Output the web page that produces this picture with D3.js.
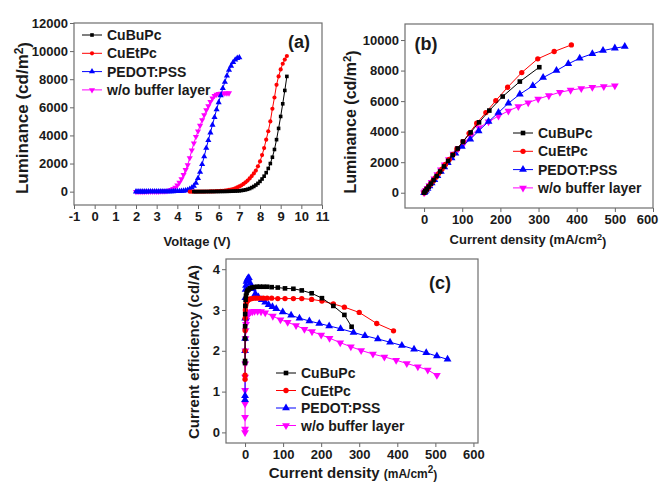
<!DOCTYPE html>
<html>
<head>
<meta charset="utf-8">
<script src="https://cdn.jsdelivr.net/npm/d3@7"></script>
<style>
  body { margin: 0; background: #fff; }
  text { font-family: "Liberation Sans", Arial, sans-serif; fill: #1a1a1a; }
</style>
</head>
<body>
<div id="chart"></div>
<script>
// ---- data ----
var seriesNames = ["CuBuPc", "CuEtPc", "PEDOT:PSS", "w/o buffer layer"];

// (a) luminance vs voltage
var aVoltBu = [4.8,4.9,5.0,5.1,5.2,5.3,5.4,5.5,5.6,5.7,5.8,5.9,6.0,6.1,6.2,6.3,6.4,6.5,6.6,6.7,6.8,6.9,7.0,7.1,7.2,7.3,7.4,7.5,7.6,7.7,7.8,7.9,8.0,8.1,8.2,8.3,8.4,8.5,8.6,8.7,8.8,8.9,9.0,9.1,9.2,9.3];
var aLumBu = [0,0,2,3,4,5,6,7,8,9,10,11,12,14,16,18,21,25,30,36,43,51,60,80,100,130,170,220,290,370,470,590,730,900,1100,1350,1650,2000,2450,3000,3700,4500,5350,6250,7200,8200];
var aVoltEt = [4.6,4.7,4.8,4.9,5.0,5.1,5.2,5.3,5.4,5.5,5.6,5.7,5.8,5.9,6.0,6.1,6.2,6.3,6.4,6.5,6.6,6.7,6.8,6.9,7.0,7.1,7.2,7.3,7.4,7.5,7.6,7.7,7.8,7.9,8.0,8.1,8.2,8.3,8.4,8.5,8.6,8.7,8.8,8.9,9.0,9.1,9.2,9.3];
var aLumEt = [0,1,2,3,4,5,6,7,9,11,14,18,24,31,40,50,60,75,95,120,150,190,240,300,370,450,550,660,790,940,1110,1300,1500,1800,2150,2600,3100,3700,4300,5000,5900,6700,7600,8200,8700,9100,9400,9650];
var aVoltPe = [2.0,2.1,2.2,2.3,2.4,2.5,2.6,2.7,2.8,2.9,3.0,3.1,3.2,3.3,3.4,3.5,3.6,3.7,3.8,3.9,4.0,4.1,4.2,4.3,4.4,4.5,4.6,4.7,4.8,4.9,5.0,5.1,5.2,5.3,5.4,5.5,5.6,5.7,5.8,5.9,6.0,6.1,6.2,6.3,6.4,6.5,6.6,6.7,6.8,6.9,7.0];
var aLumPe = [0,0,1,1,2,2,3,3,4,5,6,7,8,9,10,12,14,16,19,22,26,32,40,55,80,120,180,270,400,620,950,1400,1950,2500,3100,3650,4200,4750,5300,5850,6350,6850,7350,7800,8250,8650,8950,9200,9380,9500,9550];
var aVoltWo = [2.0,2.1,2.2,2.3,2.4,2.5,2.6,2.7,2.8,2.9,3.0,3.1,3.2,3.3,3.4,3.5,3.6,3.7,3.8,3.9,4.0,4.1,4.2,4.3,4.4,4.5,4.6,4.7,4.8,4.9,5.0,5.1,5.2,5.3,5.4,5.5,5.6,5.7,5.8,5.9,6.0,6.1,6.2,6.3,6.4,6.5];
var aLumWo = [0,1,1,2,3,4,5,6,8,10,13,17,22,29,38,55,85,130,200,300,450,650,900,1200,1550,1900,2400,2950,3450,3900,4300,4700,5100,5450,5800,6100,6400,6650,6830,6920,6960,6980,6990,7000,7000,7010];

// (b) luminance vs current density
var bJBu = [0,3,7,12,18,25,33,42,52,63,75,88,102,122,144,171,206,251,302];
var bLBu = [0,100,230,400,600,830,1090,1390,1720,2080,2470,2900,3350,3950,4610,5380,6300,7280,8220];
var bJEt = [0,2,5,8,12,17,23,30,38,47,56,66,76,86,102,118,138,162,188,219,256,298,341,386];
var bLEt = [0,65,165,265,395,560,760,990,1255,1550,1850,2180,2510,2870,3340,3890,4550,5250,6030,6910,7870,8770,9250,9680];
var bJPe = [0,2,5,9,14,20,27,35,44,53,62,72,82,99,121,143,169,195,221,251,285,312,347,378,408,441,469,500,526];
var bLPe = [0,65,160,285,445,635,855,1110,1395,1680,1960,2270,2580,3020,3500,4050,4660,5250,5860,6450,7000,7540,8000,8440,8810,9100,9310,9470,9570];
var bJWo = [0,2,5,9,14,20,27,35,44,54,65,77,90,105,122,144,169,195,221,247,273,299,327,356,384,412,441,471,500];
var bLWo = [0,60,170,300,470,680,920,1200,1500,1840,2180,2540,2900,3280,3720,4250,4650,5030,5360,5640,5900,6140,6360,6580,6720,6830,6910,6960,7000];

// (c) current efficiency vs current density
var cJBu = [0.02,0.05,0.1,0.2,0.4,0.8,1.5,2.5,4,6,9,13,18,24,31,39,48,58,70,86,105,127,149,175,202,232,261,280];
var cEBu = [1.7,1.75,2.3,2.6,2.9,3.1,3.25,3.35,3.42,3.47,3.5,3.53,3.55,3.56,3.57,3.57,3.57,3.57,3.56,3.55,3.53,3.52,3.48,3.41,3.29,3.10,2.88,2.59];
var cJEt = [0.02,0.05,0.1,0.2,0.4,0.8,1.5,2.5,4,6,9,13,18,24,31,39,48,58,70,86,105,127,149,175,202,232,261,300,346,390];
var cEEt = [1.3,1.4,2.0,2.5,2.8,3.0,3.1,3.15,3.2,3.22,3.25,3.27,3.28,3.29,3.29,3.29,3.29,3.29,3.29,3.28,3.28,3.28,3.28,3.26,3.22,3.15,3.07,2.94,2.67,2.49];
var cJPe = [0.02,0.05,0.1,0.2,0.4,0.8,1.5,2.5,4,6,8,10,14,20,27,35,44,53,62,72,82,99,121,143,169,195,221,251,285,315,349,381,412,444,476,504,532];
var cEPe = [0.8,0.9,2.0,2.3,2.8,3.3,3.5,3.6,3.7,3.75,3.78,3.79,3.65,3.52,3.40,3.32,3.25,3.19,3.13,3.08,3.03,2.95,2.87,2.80,2.73,2.67,2.61,2.54,2.45,2.37,2.29,2.21,2.13,2.04,1.95,1.87,1.79];
var cJWo = [0.01,0.02,0.04,0.08,0.15,0.3,0.5,0.8,1.2,1.8,2.6,3.6,5,7,10,14,19,25,33,42,53,73,93,112,134,156,176,200,222,250,278,305,336,366,397,425,454,480,504];
var cEWo = [0.0,0.08,0.37,0.7,1.03,1.36,1.68,2.0,2.3,2.5,2.65,2.75,2.83,2.88,2.92,2.95,2.96,2.97,2.97,2.96,2.93,2.85,2.76,2.70,2.62,2.53,2.47,2.39,2.31,2.20,2.10,2.01,1.92,1.85,1.77,1.69,1.61,1.53,1.40];

var aTicksX = [-1,0,1,2,3,4,5,6,7,8,9,10,11];
var aTicksY = [0,2000,4000,6000,8000,10000,12000];
var bTicksX = [0,100,200,300,400,500,600];
var bTicksY = [0,2000,4000,6000,8000,10000];
var cTicksX = [0,100,200,300,400,500,600];
var cTicksY = [0,1,2,3,4];

// ---- styles ----
var colors = ["#000000", "#ff0000", "#0000ff", "#ff00ff"];
var shapes = ["square", "circle", "up", "down"];

var svg = d3.select("#chart").append("svg")
    .attr("width", 659).attr("height", 484);
svg.append("rect").attr("width", 659).attr("height", 484).attr("fill", "#fff");

function zip(xs, ys) {
    return xs.map(function(x, i) { return [x, ys[i]]; });
}

// plain numbers, ascii hyphen for negatives
function plain(d) { return String(d); }

function marker(g, shape, color, s) {
    if (shape == "square") {
        g.append("rect").attr("x", -s/2).attr("y", -s/2).attr("width", s).attr("height", s).attr("fill", color);
    } else if (shape == "circle") {
        g.append("circle").attr("r", s*0.58).attr("fill", color);
    } else {
        var sym = d3.symbol().type(d3.symbolTriangle).size(s*s*1.25);
        g.append("path").attr("d", sym).attr("fill", color)
            .attr("transform", shape == "down" ? "rotate(180)" : null);
    }
}

function panel(cfg) {
    var x = d3.scaleLinear().domain(cfg.xd).range([cfg.left, cfg.right]);
    var y = d3.scaleLinear().domain(cfg.yd).range([cfg.bottom, cfg.top]);
    var g = svg.append("g");

    // axes
    var xa = g.append("g")
        .attr("transform", "translate(0," + cfg.bottom + ")")
        .call(d3.axisBottom(x).tickValues(cfg.tx).tickFormat(plain).tickSize(4).tickSizeOuter(0).tickPadding(3))
        .call(function(a){ a.select(".domain").remove(); });
    xa.selectAll("text").style("font-size", cfg.tickFont + "px").style("font-weight", "bold").attr("fill", "#1a1a1a");
    if (cfg.lastDx) {
        // keep the last label inside the page
        xa.selectAll(".tick").filter(function(d){ return d == cfg.tx[cfg.tx.length - 1]; })
            .select("text").attr("x", cfg.lastDx);
    }

    g.append("g")
        .attr("transform", "translate(" + cfg.left + ",0)")
        .call(d3.axisLeft(y).tickValues(cfg.ty).tickFormat(plain).tickSize(4).tickSizeOuter(0).tickPadding(2))
        .call(function(a){ a.select(".domain").remove(); })
        .selectAll("text").style("font-size", cfg.tickFont + "px").style("font-weight", "bold").attr("fill", "#1a1a1a");
    g.selectAll(".tick line").attr("stroke", "#666");

    // frame
    g.append("rect")
        .attr("x", cfg.left).attr("y", cfg.top)
        .attr("width", cfg.right - cfg.left).attr("height", cfg.bottom - cfg.top)
        .attr("fill", "none").attr("stroke", "#6e6e6e").attr("stroke-width", 1.2);

    var line = d3.line().x(function(d){ return x(d[0]); }).y(function(d){ return y(d[1]); });

    // draw last series first so black is on top
    for (var i = cfg.data.length - 1; i >= 0; i--) {
        var pts = cfg.data[i];
        g.append("path").datum(pts).attr("d", line)
            .attr("fill", "none").attr("stroke", colors[i]).attr("stroke-width", 1);
        g.selectAll(null).data(pts).enter().append("g")
            .attr("transform", function(d){ return "translate(" + x(d[0]) + "," + y(d[1]) + ")"; })
            .each(function(){ marker(d3.select(this), shapes[i], colors[i], cfg.ms); });
    }

    // legend
    seriesNames.forEach(function(name, i) {
        var ly = cfg.leg[1] + i * cfg.leg[2];
        var lg = g.append("g");
        lg.append("line").attr("x1", cfg.leg[0]).attr("x2", cfg.leg[0] + 20)
            .attr("y1", ly).attr("y2", ly).attr("stroke", colors[i]).attr("stroke-width", 1);
        var mg = lg.append("g").attr("transform", "translate(" + (cfg.leg[0] + 10) + "," + ly + ")");
        marker(mg, shapes[i], colors[i], cfg.ms);
        lg.append("text").attr("x", cfg.leg[0] + 25).attr("y", ly + 5)
            .style("font-size", "14px").style("font-weight", "bold").text(name);
    });

    // panel letter
    g.append("text").attr("x", cfg.tag[0]).attr("y", cfg.tag[1])
        .attr("text-anchor", "middle").style("font-size", "18px").style("font-weight", "bold")
        .text(cfg.tag[2]);

    // y title
    var yt = g.append("text")
        .attr("transform", "translate(" + cfg.ytitle[0] + "," + cfg.ytitle[1] + ") rotate(-90)")
        .attr("text-anchor", "middle").style("font-size", cfg.ytitle[2] + "px").style("font-weight", "bold");
    cfg.ytitle[3](yt);

    // x title
    var xt = g.append("text").attr("x", cfg.xtitle[0]).attr("y", cfg.xtitle[1])
        .attr("text-anchor", "middle").style("font-size", cfg.xtitle[2] + "px").style("font-weight", "bold");
    cfg.xtitle[3](xt);
}

function lumTitle(t) {
    t.append("tspan").text("Luminance (cd/m");
    t.append("tspan").attr("dy", "-0.45em").style("font-size", "0.7em").text("2");
    t.append("tspan").attr("dy", "0.45em").text(")");
}

panel({
    left: 74, right: 322, top: 23, bottom: 205,
    xd: [-1, 11], yd: [-950, 12000], tx: aTicksX, ty: aTicksY, tickFont: 13, ms: 3.6,
    data: [zip(aVoltBu, aLumBu), zip(aVoltEt, aLumEt), zip(aVoltPe, aLumPe), zip(aVoltWo, aLumWo)],
    leg: [82, 35, 18.3], tag: [299, 48, "(a)"],
    ytitle: [28, 118, 17, lumTitle],
    xtitle: [197, 246, 13, function(t){ t.text("Voltage (V)"); }]
});

panel({
    left: 405, right: 653, top: 24, bottom: 208,
    xd: [-50, 600], yd: [-1000, 11050], tx: bTicksX, ty: bTicksY, tickFont: 13, ms: 4.6,
    data: [zip(bJBu, bLBu), zip(bJEt, bLEt), zip(bJPe, bLPe), zip(bJWo, bLWo)],
    leg: [513, 133, 18.3], tag: [426, 50, "(b)"],
    ytitle: [356, 122, 16, lumTitle],
    xtitle: [528, 244, 13, function(t){
        t.append("tspan").text("Current density (mA/cm");
        t.append("tspan").attr("dy", "-0.45em").style("font-size", "0.7em").text("2");
        t.append("tspan").attr("dy", "0.45em").text(")");
    }],
    lastDx: -6
});

panel({
    left: 226, right: 478, top: 259, bottom: 443,
    xd: [-50, 612], yd: [-0.26, 4.25], tx: cTicksX, ty: cTicksY, tickFont: 13, ms: 4.6,
    data: [zip(cJBu, cEBu), zip(cJEt, cEEt), zip(cJPe, cEPe), zip(cJWo, cEWo)],
    leg: [276, 373, 17.5], tag: [440, 289, "(c)"],
    ytitle: [199, 352, 15, function(t){ t.text("Current efficiency (cd/A)"); }],
    xtitle: [353, 478, 15, function(t){
        t.append("tspan").text("Current density ");
        t.append("tspan").style("font-size", "12px").text("(mA/cm");
        t.append("tspan").attr("dy", "-0.5em").style("font-size", "10px").text("2");
        t.append("tspan").attr("dy", "0.5em").style("font-size", "12px").text(")");
    }]
});
</script>
</body>
</html>
